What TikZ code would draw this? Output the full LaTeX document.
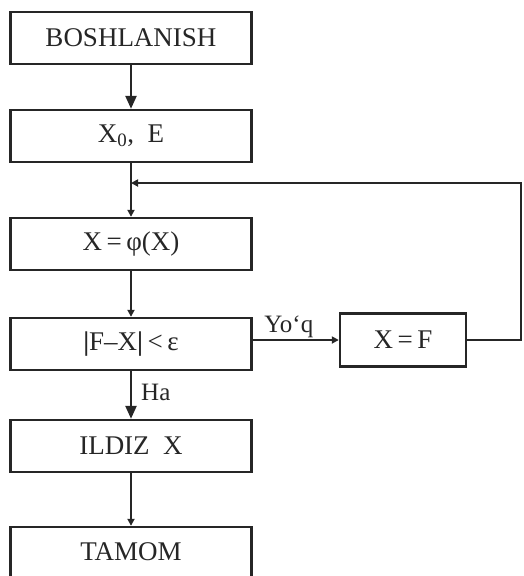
\documentclass[tikz,border=0pt]{standalone}
\usepackage{fontspec}
\setmainfont{Liberation Serif}
\usetikzlibrary{arrows.meta}
\begin{document}
\begin{tikzpicture}[x=1pt,y=-1pt,
  blk/.style={draw=black!85,line width=2.4pt,minimum width=241pt,minimum height=52pt,inner sep=0pt,
    font=\fontsize{27}{30}\selectfont,text=black!85},
  conn/.style={draw=black!85,line width=2.4pt},
  bigarr/.style={conn,-{Triangle[length=13pt,width=11pt]}},
  smallarr/.style={conn,-{Triangle[length=7pt,width=7pt]}},
  lbl/.style={font=\fontsize{25}{28}\selectfont,text=black!85,inner sep=1pt}]
\useasboundingbox (0,0) rectangle (523,576);
\node[blk] (b1) at (131,38) {BOSHLANISH};
\node[blk] (b2) at (131,136) {X\textsubscript{0},~~E};
\node[blk] (b3) at (131,244) {X\,=\,φ(X)};
\node[blk] (b4) at (131,344) {\textbf{|}F–X\textbf{|}\,<\,ε};
\node[blk] (b5) at (131,446) {ILDIZ~~X};
\node[blk,minimum height=50pt] (b6) at (131,552) {TAMOM};
\node[blk,minimum width=126pt,minimum height=53pt] (xf) at (403,340) {X\,=\,F};
\coordinate (fr) at (521,183);
\coordinate (j) at (131,183);
\draw[bigarr] (b1) -- (b2);
\draw[conn] (b2) -- (j);
\draw[smallarr] (j) -- (b3);
\draw[smallarr] (b3) -- (b4);
\draw[bigarr] (b4) -- node[lbl,right,pos=0.45,xshift=8pt] {Ha} (b5);
\draw[smallarr] (b5) -- (b6);
\draw[smallarr] (b4.east |- xf) -- node[lbl,above,pos=0.42] {Yo‘q} (xf);
\draw[smallarr] (xf.east) -| (fr) -- (j);
\end{tikzpicture}
\end{document}
